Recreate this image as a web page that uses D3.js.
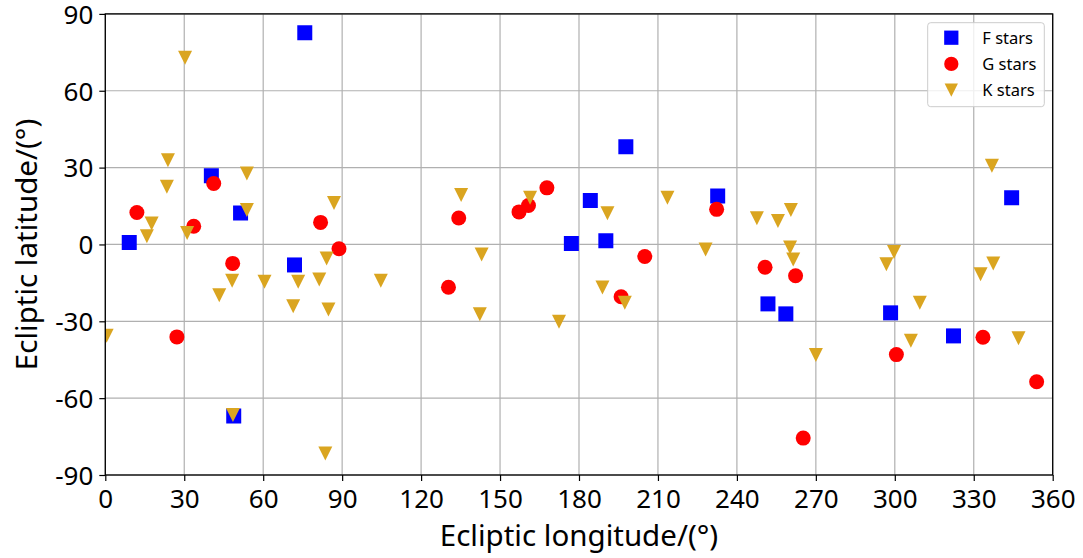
<!DOCTYPE html>
<html>
<head>
<meta charset="utf-8">
<script src="https://cdn.jsdelivr.net/npm/d3@7/dist/d3.min.js"></script>
<style>
  html, body { margin: 0; padding: 0; background: #fff; }
  svg { display: block; font-family: "Noto Sans", "Open Sans", sans-serif; }
</style>
</head>
<body>
<svg id="chart" width="1083" height="558"></svg>
<script>
// Ecliptic coordinates (degrees) of the sample stars, by spectral type
const fLon = [9.1, 40.3, 51.4, 48.8, 75.8, 71.9, 177.1, 184.3, 190.2, 197.8, 232.7, 251.8, 258.6, 298.4, 322.3, 344.4];
const fLat = [0.8, 26.8, 12.3, -67.0, 82.6, -8.0, 0.4, 17.2, 1.4, 38.1, 18.9, -23.2, -27.1, -26.7, -35.7, 18.2];

const gLon = [12.0, 33.6, 41.2, 48.4, 27.2, 81.8, 88.8, 134.3, 130.4, 157.2, 160.8, 167.8, 196.0, 205.0, 232.3, 250.7, 262.3, 265.2, 300.6, 333.5, 353.9];
const gLat = [12.5, 7.1, 23.8, -7.4, -36.1, 8.6, -1.7, 10.3, -16.7, 12.7, 15.2, 22.1, -20.4, -4.7, 13.7, -8.9, -12.2, -75.6, -43.0, -36.2, -53.6];

const kLon = [0.5, 15.8, 17.6, 23.4, 23.8, 30.3, 31.1, 43.3, 48.2, 48.5, 53.8, 53.8, 60.5, 71.4, 73.3, 81.3, 83.6, 84.1, 84.8, 86.9, 104.7, 135.2, 142.3, 143.0, 161.4, 172.4, 188.9, 190.8, 197.4, 213.6, 228.1, 247.6, 255.6, 260.2, 260.5, 261.4, 270.0, 296.8, 299.7, 306.1, 309.5, 332.6, 336.9, 337.4, 347.0];
const kLat = [-35.6, 3.2, 8.2, 22.5, 32.9, 72.9, 4.5, -19.8, -14.2, -66.6, 27.7, 13.4, -14.6, -24.1, -14.6, -13.7, -81.6, -5.5, -25.4, 16.2, -14.2, 19.3, -27.2, -3.9, 18.2, -30.2, -16.8, 12.2, -22.8, 18.2, -2.0, 10.2, 9.2, -1.2, 13.4, -5.9, -43.2, -7.7, -2.9, -37.6, -22.8, -11.6, 30.7, -7.4, -36.6];

const xTicks = [0, 30, 60, 90, 120, 150, 180, 210, 240, 270, 300, 330, 360];
const yTicks = [-90, -60, -30, 0, 30, 60, 90];

const seriesNames = ["F stars", "G stars", "K stars"];
const seriesColors = ["#0000ff", "#ff0000", "#daa520"];
const seriesShapes = ["square", "circle", "triangleDown"];

const svg = d3.select("#chart");
const m = { left: 105.3, right: 1052.7, top: 13.9, bottom: 475 };

const x = d3.scaleLinear().domain([0, 360]).range([m.left, m.right]);
const y = d3.scaleLinear().domain([-90, 90]).range([m.bottom, m.top]);

svg.append("defs").append("clipPath").attr("id", "plotClip")
  .append("rect")
  .attr("x", m.left).attr("y", m.top)
  .attr("width", m.right - m.left).attr("height", m.bottom - m.top);

// grid
const grid = svg.append("g");
grid.selectAll("line.vx").data(xTicks).join("line")
  .attr("x1", d => x(d)).attr("x2", d => x(d))
  .attr("y1", m.top).attr("y2", m.bottom)
  .attr("stroke", "#b0b0b0").attr("stroke-width", 1.2);
grid.selectAll("line.hy").data(yTicks).join("line")
  .attr("y1", d => y(d)).attr("y2", d => y(d))
  .attr("x1", m.left).attr("x2", m.right)
  .attr("stroke", "#b0b0b0").attr("stroke-width", 1.2);

// marker shapes
function markerPath(shape) {
  if (shape === "square") return "M-7.5,-7.5H7.5V7.5H-7.5Z";
  if (shape === "circle") return d3.symbol(d3.symbolCircle, Math.PI * 7.5 * 7.5)();
  return "M0,7L-7,-7L7,-7Z";
}

const series = [
  { lon: fLon, lat: fLat },
  { lon: gLon, lat: gLat },
  { lon: kLon, lat: kLat }
];

const pts = svg.append("g").attr("clip-path", "url(#plotClip)");
series.forEach((s, i) => {
  const data = s.lon.map((d, j) => [d, s.lat[j]]);
  pts.append("g").selectAll("path").data(data).join("path")
    .attr("d", markerPath(seriesShapes[i]))
    .attr("transform", d => `translate(${x(d[0])},${y(d[1])})`)
    .attr("fill", seriesColors[i]);
});

// axes (plain hyphen for negative labels)
const fmt = d => String(d);
const xAxis = d3.axisBottom(x).tickValues(xTicks).tickSize(6).tickPadding(6).tickFormat(fmt);
const yAxis = d3.axisLeft(y).tickValues(yTicks).tickSize(6).tickPadding(6).tickFormat(fmt);

const gx = svg.append("g").attr("transform", `translate(0,${m.bottom})`).call(xAxis);
const gy = svg.append("g").attr("transform", `translate(${m.left},0)`).call(yAxis);
[gx, gy].forEach(g => {
  g.select(".domain").remove();
  g.selectAll(".tick line").attr("stroke", "#000").attr("stroke-width", 1.2);
  g.selectAll(".tick text").attr("fill", "#000").style("font-size", "26px")
    .style("font-family", "'Noto Sans', 'Open Sans', sans-serif");
});
gx.selectAll(".tick text").attr("dy", "0.8em");
gy.selectAll(".tick text").attr("dy", "0.36em");

// frame
svg.append("rect")
  .attr("x", m.left).attr("y", m.top)
  .attr("width", m.right - m.left).attr("height", m.bottom - m.top)
  .attr("fill", "none").attr("stroke", "#000").attr("stroke-width", 1.3);

// axis titles
svg.append("text")
  .attr("x", (m.left + m.right) / 2).attr("y", 546)
  .attr("text-anchor", "middle").style("font-size", "29.5px").attr("fill", "#000")
  .text("Ecliptic longitude/(°)");
svg.append("text")
  .attr("transform", `translate(37,${(m.top + m.bottom) / 2}) rotate(-90)`)
  .attr("text-anchor", "middle").style("font-size", "29.5px").attr("fill", "#000")
  .text("Ecliptic latitude/(°)");

// legend
const lg = svg.append("g");
lg.append("rect")
  .attr("x", 927.7).attr("y", 22.7).attr("width", 116.6).attr("height", 84)
  .attr("rx", 3).attr("ry", 3)
  .attr("fill", "#fff").attr("fill-opacity", 0.8)
  .attr("stroke", "#cccccc").attr("stroke-width", 1);
seriesNames.forEach((name, i) => {
  const cy = 37.7 + i * 26.2;
  lg.append("path")
    .attr("d", markerPath(seriesShapes[i]))
    .attr("transform", `translate(951.3,${cy}) scale(0.95)`)
    .attr("fill", seriesColors[i]);
  lg.append("text")
    .attr("x", 982.3).attr("y", cy).attr("dy", "0.36em")
    .style("font-size", "16.5px").attr("fill", "#000")
    .text(name);
});
</script>
</body>
</html>
